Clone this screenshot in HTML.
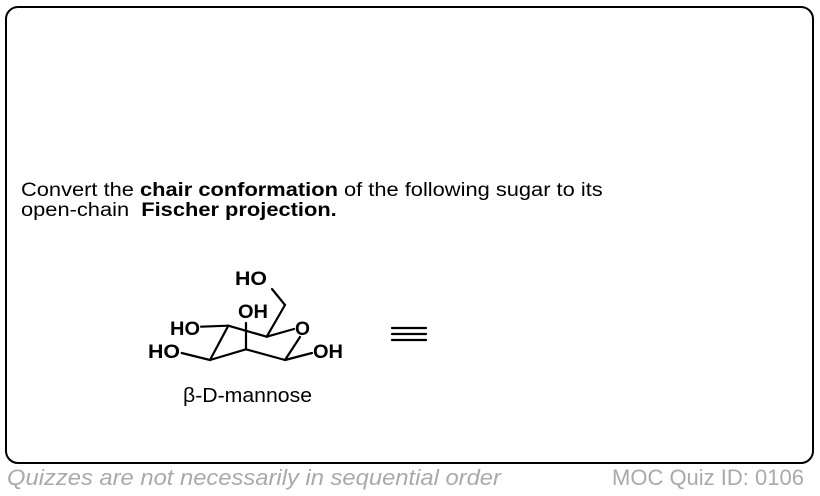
<!DOCTYPE html>
<html><head><style>
body{margin:0;width:820px;height:496px;background:#fff;position:relative;overflow:hidden;font-family:"Liberation Sans",sans-serif}
.box{position:absolute;left:5px;top:6px;width:805px;height:454px;border:2.5px solid #000;border-radius:13px}
.q{position:absolute;left:21px;top:181px;font-size:19px;line-height:20px;color:#000;transform:scaleX(1.15);transform-origin:0 0;white-space:nowrap}
.f{position:absolute;top:465px;font-size:22px;color:#aaa;transform-origin:0 0;white-space:nowrap}
</style></head><body>
<div class="box"></div>
<div class="q">Convert the <b>chair conformation</b> of the following sugar to its<br>open-chain&nbsp; <b>Fischer projection.</b></div>
<svg style="position:absolute;left:0;top:0" width="820" height="496">
<g stroke="#000" stroke-width="2.2" fill="none" stroke-linecap="round">
<line x1="201" y1="326.7" x2="228.3" y2="325.7"/>
<line x1="228.3" y1="325.7" x2="266.7" y2="336.7"/>
<line x1="228.3" y1="325.7" x2="210" y2="360"/>
<line x1="181.7" y1="353" x2="210" y2="360"/>
<line x1="210" y1="360" x2="246" y2="349.3"/>
<line x1="246" y1="323" x2="246" y2="349.3"/>
<line x1="246" y1="349.3" x2="285" y2="360"/>
<line x1="266.7" y1="336.7" x2="285" y2="305"/>
<line x1="285" y1="305" x2="272" y2="289"/>
<line x1="266.7" y1="336.7" x2="294" y2="329"/>
<line x1="300" y1="337" x2="285" y2="360"/>
<line x1="285" y1="360" x2="312" y2="353"/>
<line x1="392" y1="328" x2="426" y2="328"/>
<line x1="392" y1="334" x2="426" y2="334"/>
<line x1="392" y1="340" x2="426" y2="340"/>
</g>
<g font-family="Liberation Sans,sans-serif" font-weight="bold" font-size="19" fill="#000">
<text x="235" y="285" textLength="32" lengthAdjust="spacingAndGlyphs">HO</text>
<text x="238" y="318" textLength="30" lengthAdjust="spacingAndGlyphs">OH</text>
<text x="170" y="335" textLength="30" lengthAdjust="spacingAndGlyphs">HO</text>
<text x="148" y="358" textLength="32" lengthAdjust="spacingAndGlyphs">HO</text>
<text x="295" y="335" textLength="15" lengthAdjust="spacingAndGlyphs">O</text>
<text x="313" y="358" textLength="30" lengthAdjust="spacingAndGlyphs">OH</text>
</g>
<text x="183" y="402" textLength="129" lengthAdjust="spacingAndGlyphs" font-family="Liberation Sans,sans-serif" font-size="20">β-D-mannose</text>
</svg>
<div class="f" style="left:7px;font-style:italic;transform:scaleX(1.08)">Quizzes are not necessarily in sequential order</div>
<div class="f" style="left:612px">MOC Quiz ID: 0106</div>
</body></html>
